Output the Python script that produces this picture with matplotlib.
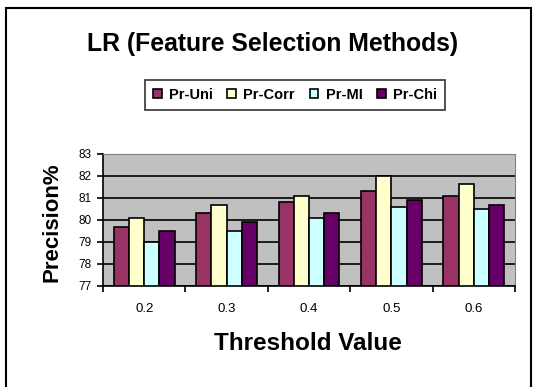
import numpy as np
import matplotlib
matplotlib.use("Agg")
import matplotlib.pyplot as plt
from matplotlib.patches import Rectangle

thresholds = ["0.2", "0.3", "0.4", "0.5", "0.6"]
series_names = ["Pr-Uni", "Pr-Corr", "Pr-MI", "Pr-Chi"]
pr_uni = [79.7, 80.3, 80.8, 81.3, 81.1]
pr_corr = [80.1, 80.7, 81.1, 82.0, 81.65]
pr_mi = [79.0, 79.5, 80.1, 80.6, 80.5]
pr_chi = [79.5, 79.9, 80.3, 80.9, 80.7]
colors = ["#993366", "#FFFFCC", "#CCFFFF", "#660066"]

plt.rcParams["font.family"] = ["Liberation Sans", "DejaVu Sans"]

W, H = 533, 387
fig = plt.figure(figsize=(W / 100, H / 100), dpi=100)
ax = fig.add_axes([103 / W, 1 - 286 / H, 412 / W, 132 / H])
ax.set_facecolor("#C0C0C0")

x = np.arange(len(thresholds))
w = 0.185
for i, (vals, c, name) in enumerate(zip([pr_uni, pr_corr, pr_mi, pr_chi], colors, series_names)):
    ax.bar(x + (i - 1.5) * w, np.array(vals) - 77, w, bottom=77, color=c,
           edgecolor="black", linewidth=1.2, label=name, zorder=3)

ax.set_xlim(-0.5, len(thresholds) - 0.5)
ax.set_ylim(77, 83)
ax.set_yticks(range(77, 84))
ax.yaxis.grid(True, color="black", linewidth=1.2, zorder=1)
ax.set_xticks(x)
ax.set_xticklabels(thresholds, fontsize=9.5)
ax.set_xticks(np.arange(-0.5, len(thresholds)), minor=True)
ax.tick_params(axis="x", which="major", length=0, pad=12)
ax.tick_params(axis="x", which="minor", length=4, width=1.2, direction="out")
ax.tick_params(axis="y", length=4, width=1.2, labelsize=8.5, pad=4)
for s in ["top", "right"]:
    ax.spines[s].set_color("#808080")
for s in ["left", "bottom"]:
    ax.spines[s].set_linewidth(1.2)

fig.text(308 / W, 1 - 344 / H, "Threshold Value", fontsize=17.5,
         fontweight="bold", ha="center", va="center")
fig.text(52 / W, 1 - 222 / H, "Precision%", fontsize=16, fontweight="bold",
         rotation=90, ha="center", va="center")
fig.text(273 / W, 1 - 44 / H, "LR (Feature Selection Methods)", fontsize=17.8,
         fontweight="bold", ha="center", va="center")

leg = fig.legend(loc="center", bbox_to_anchor=(295 / W, 1 - 95 / H), ncol=4,
                 frameon=True, fancybox=False, edgecolor="black",
                 handlelength=0.6, handleheight=0.6, handletextpad=0.5,
                 columnspacing=1.0, borderpad=0.55,
                 prop={"weight": "bold", "size": 10.5})
leg.get_frame().set_linewidth(1.2)
for h in leg.legend_handles:
    h.set_linewidth(1.2)

fig.patches.append(Rectangle((6 / W, -0.05), 525 / W, 1 - 8 / H + 0.05,
                             transform=fig.transFigure, fill=False,
                             edgecolor="black", linewidth=1.5))

fig.savefig("out.png", dpi=100)
